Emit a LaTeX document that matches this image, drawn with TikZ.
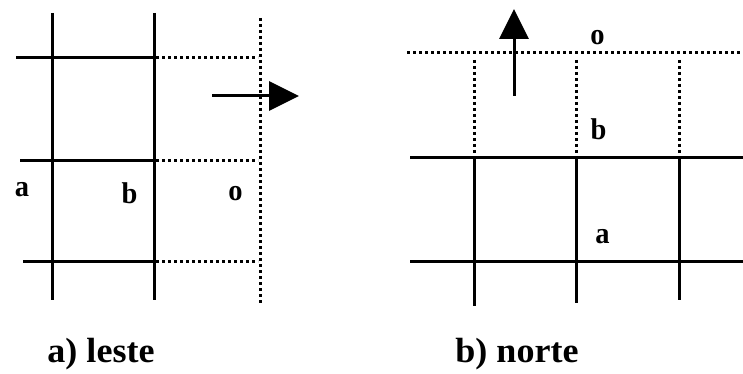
\documentclass[tikz,border=0pt]{standalone}
\usepackage{fontspec}
\setmainfont{Liberation Serif}
\usetikzlibrary{arrows.meta}
\tikzset{
  solid line/.style={line width=3pt},
  dotted line/.style={line width=3pt, dash pattern=on 3pt off 3pt},
  small label/.style={font=\bfseries\fontsize{30}{30}\selectfont, inner sep=0pt, anchor=base, xscale=0.95},
  caption label/.style={font=\bfseries\fontsize{35}{35}\selectfont, inner sep=0pt, anchor=base, xscale=1.03},
  big arrow/.style={line width=3pt, -{Triangle[length=30pt,width=29pt]}}
}
\begin{document}
\begin{tikzpicture}[x=1pt,y=-1pt]
\useasboundingbox (0,0) rectangle (743,374);
% ---- a) leste ----
\draw[solid line] (52,13) -- (52,300);
\draw[solid line] (154,13) -- (154,300);
\draw[solid line] (16,58) -- (154,58);
\draw[solid line] (20,161) -- (154,161);
\draw[solid line] (23,261) -- (154,261);
\draw[dotted line] (156,58) -- (258,58);
\draw[dotted line] (156,161) -- (258,161);
\draw[dotted line] (156,261) -- (258,261);
\draw[dotted line] (260,18) -- (260,304);
\coordinate (ea) at (212,96);
\coordinate (eb) at (299,96);
\draw[big arrow] (ea) -- (eb);
\node[small label] (la) at (22,196) {a};
\node[small label] (lb) at (129.5,203) {b};
\node[small label] (lo) at (235.5,200) {o};
\node[caption label] (ca) at (101,362) {a) leste};
% ---- b) norte ----
\draw[dotted line] (407,53) -- (743,53);
\draw[dotted line] (474,60) -- (474,153);
\draw[dotted line] (576,60) -- (576,153);
\draw[dotted line] (679,60) -- (679,153);
\draw[solid line] (410,158) -- (743,158);
\draw[solid line] (410,261) -- (743,261);
\draw[solid line] (474,158) -- (474,306);
\draw[solid line] (576,158) -- (576,303);
\draw[solid line] (679,158) -- (679,300);
\coordinate (na) at (514,96);
\coordinate (nb) at (514,9);
\draw[big arrow] (na) -- (nb);
\node[small label] (ro) at (597.5,45) {o};
\node[small label] (rb) at (598.5,140) {b};
\node[small label] (ra) at (602.5,243) {a};
\node[caption label] (cb) at (517,362) {b) norte};
\end{tikzpicture}
\end{document}
